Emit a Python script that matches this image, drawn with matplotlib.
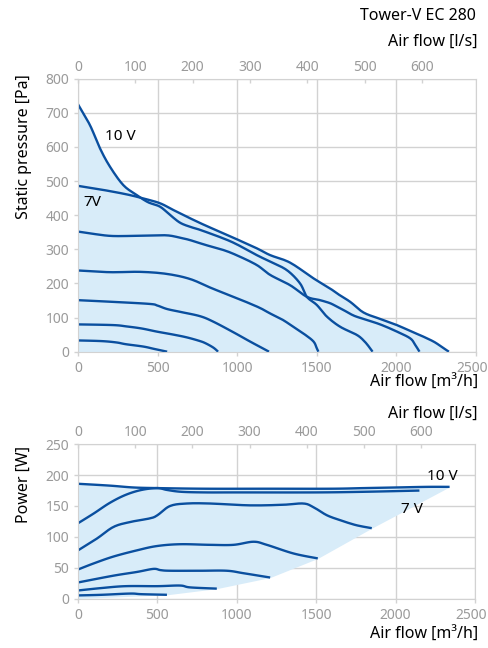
import numpy as np
import matplotlib.pyplot as plt
import matplotlib.transforms as mtransforms

plt.rcParams['font.family'] = ['Noto Sans', 'DejaVu Sans']

BLUE = '#0a4f9f'
FILL = '#d8ecf9'
GRID = '#d2d2d2'
TICK = '#9a9a9a'

# static pressure curves: air flow [m3/h], pressure [Pa]
p1_x = [0, 150, 243, 300, 411, 480, 560]
p1_y = [33, 31, 27, 22, 15, 8, 0]
p2_x = [0, 220, 306, 400, 494, 600, 683, 760, 800, 850, 880]
p2_y = [80, 78, 74, 68, 59, 50, 42, 32, 25, 12, 0]
p3_x = [0, 220, 450, 500, 560, 650, 767, 850, 976, 1080, 1160, 1200]
p3_y = [151, 146, 140, 135, 125, 116, 104, 88, 57, 30, 10, 0]
p4_x = [0, 200, 390, 557, 704, 840, 976, 1060, 1144, 1207, 1280, 1340, 1420, 1479, 1500, 1510]
p4_y = [238, 233, 234, 228, 213, 186, 161, 145, 128, 112, 95, 77, 52, 30, 10, 0]
p5_x = [0, 100, 220, 400, 557, 650, 704, 800, 913, 1000, 1123, 1207, 1332, 1437, 1521,
        1584, 1626, 1668, 1731, 1800, 1898, 2003, 2087, 2118, 2145]
p5_y = [352, 345, 339, 340, 341, 333, 327, 313, 298, 282, 254, 225, 195, 161, 151,
        142, 132, 122, 106, 95, 80, 59, 39, 20, 0]
p7v_x = [0, 159, 306, 411, 515, 600, 704, 800, 913, 1000, 1123, 1207, 1332, 1479, 1584,
         1626, 1710, 1793, 1898, 2003, 2100, 2170, 2240, 2290, 2330]
p7v_y = [486, 474, 461, 449, 435, 415, 391, 370, 347, 329, 303, 283, 261, 215, 185,
         171, 146, 115, 96, 78, 58, 44, 28, 12, 0]
p10v_x = [0, 75, 138, 201, 285, 369, 440, 515, 580, 641, 704, 767, 913, 1000, 1123, 1207,
          1312, 1395, 1437, 1500, 1563, 1647, 1752, 1800, 1835, 1850]
p10v_y = [725, 664, 596, 542, 488, 459, 438, 425, 400, 378, 366, 357, 332, 314, 283, 264,
          239, 200, 161, 137, 103, 73, 49, 30, 10, 0]

# power curves: air flow [m3/h], power [W]
w1_x = [0, 150, 328, 400, 560]
w1_y = [5, 6, 8, 7, 6]
w2_x = [0, 150, 300, 500, 643, 706, 874]
w2_y = [13, 17, 20, 20, 21, 18, 16]
w3_x = [0, 223, 370, 475, 520, 580, 769, 937, 1042, 1210]
w3_y = [26, 37, 43, 48, 46, 45, 45, 45, 41, 34]
w4_x = [0, 100, 223, 370, 496, 643, 832, 979, 1105, 1189, 1357, 1510]
w4_y = [47, 57, 68, 78, 85, 88, 87, 87, 92, 87, 73, 65]
w5_x = [0, 118, 223, 328, 454, 500, 580, 685, 832, 1084, 1294, 1420, 1483, 1567, 1651, 1750, 1850]
w5_y = [78, 97, 116, 124, 130, 135, 150, 154, 154, 151, 152, 154, 148, 135, 127, 119, 114]
w7v_x = [0, 100, 200, 300, 400, 500, 560, 650, 800, 1000, 1500, 1800, 2150]
w7v_y = [122, 138, 155, 168, 176, 179, 176, 173, 172, 172, 172, 173, 175]
w10v_x = [0, 200, 350, 500, 800, 1200, 1600, 1800, 2000, 2200, 2340]
w10v_y = [186, 183, 180, 179, 178, 178, 178, 179, 180, 181, 181]

pressure = [(p1_x, p1_y), (p2_x, p2_y), (p3_x, p3_y), (p4_x, p4_y),
            (p5_x, p5_y), (p7v_x, p7v_y), (p10v_x, p10v_y)]
power = [(w1_x, w1_y), (w2_x, w2_y), (w3_x, w3_y), (w4_x, w4_y),
         (w5_x, w5_y), (w7v_x, w7v_y), (w10v_x, w10v_y)]


def smooth(x, y, n=10):
    # catmull-rom through the read points
    pts = np.column_stack([x, y]).astype(float)
    p = np.vstack([pts[0], pts, pts[-1]])
    t = np.linspace(0, 1, n, endpoint=False)[:, None]
    out = []
    for i in range(1, len(p) - 2):
        p0, p1, p2, p3 = p[i - 1], p[i], p[i + 1], p[i + 2]
        out.append(0.5 * (2 * p1 + (-p0 + p2) * t + (2 * p0 - 5 * p1 + 4 * p2 - p3) * t ** 2
                          + (-p0 + 3 * p1 - 3 * p2 + p3) * t ** 3))
    out.append(pts[-1:])
    s = np.vstack(out)
    return s[:, 0], s[:, 1]


W, H = 488, 648
fig = plt.figure(figsize=(W / 100, H / 100), dpi=100)
FS_TICK = 10
FS_LAB = 11.5


def style(ax, ymax, ystep):
    ax.set_xlim(0, 2500)
    ax.set_ylim(0, ymax)
    ax.set_xticks(range(0, 2501, 500))
    ax.set_yticks(range(0, ymax + 1, ystep))
    ax.grid(True, color=GRID, lw=1)
    ax.set_axisbelow(True)
    for s in ax.spines.values():
        s.set_color(GRID)
    ax.tick_params(colors=GRID, labelcolor=TICK, labelsize=FS_TICK, length=3, width=1)
    last = ax.get_xticklabels()[-1]
    last.set_transform(last.get_transform() + mtransforms.ScaledTranslation(-4 / 100, 0, fig.dpi_scale_trans))
    top = ax.twiny()
    top.set_xlim(0, 2500 / 3.6)
    top.set_xticks(range(0, 601, 100))
    top.tick_params(colors=GRID, labelcolor=TICK, labelsize=FS_TICK, length=3, width=1,
                    direction='in', pad=3)
    for s in top.spines.values():
        s.set_visible(False)
    return top


# pressure chart
ax1 = fig.add_axes([78 / W, 1 - 351.7 / H, 398 / W, 273 / H])
style(ax1, 800, 100)
grid = np.linspace(0, 2500, 2500)
env = np.max([np.interp(grid, *smooth(x, y), right=0) for x, y in pressure], axis=0)
ax1.fill_between(grid, 0, env, color=FILL, lw=0)
for x, y in pressure:
    ax1.plot(*smooth(x, y), color=BLUE, lw=1.7, solid_capstyle='butt')
ax1.text(170, 632, '10 V', fontsize=11, va='center')
ax1.text(36, 438, '7V', fontsize=11, va='center')

# power chart
ax2 = fig.add_axes([78 / W, 1 - 598.5 / H, 397 / W, 154.2 / H])
style(ax2, 250, 50)
bx = [0, w1_x[-1], w2_x[-1], w3_x[-1], w4_x[-1], w5_x[-1], w10v_x[-1]]
by = [0, w1_y[-1], w2_y[-1], w3_y[-1], w4_y[-1], w5_y[-1], w10v_y[-1]]
g2 = np.linspace(0, w10v_x[-1], 1000)
ax2.fill_between(g2, np.interp(g2, bx, by), np.interp(g2, *smooth(w10v_x, w10v_y)),
                 color=FILL, lw=0)
for x, y in power:
    ax2.plot(*smooth(x, y), color=BLUE, lw=1.7, solid_capstyle='butt')
ax2.text(2200, 198, '10 V', fontsize=11, va='center')
ax2.text(2035, 145, '7 V', fontsize=11, va='center')

# texts
fig.text(476 / W, 1 - 16 / H, 'Tower-V EC 280', ha='right', va='center', fontsize=FS_LAB)
fig.text(478 / W, 1 - 42 / H, 'Air flow [l/s]', ha='right', va='center', fontsize=FS_LAB)
fig.text(478 / W, 1 - 383 / H, 'Air flow [m³/h]', ha='right', va='center', fontsize=FS_LAB)
fig.text(478 / W, 1 - 414 / H, 'Air flow [l/s]', ha='right', va='center', fontsize=FS_LAB)
fig.text(478 / W, 1 - 635 / H, 'Air flow [m³/h]', ha='right', va='center', fontsize=FS_LAB)
fig.text(24 / W, 1 - 74 / H, 'Static pressure [Pa]', rotation=90, ha='center', va='top', fontsize=FS_LAB)
fig.text(24 / W, 1 - 446 / H, 'Power [W]', rotation=90, ha='center', va='top', fontsize=FS_LAB)

fig.savefig('out.png', dpi=100)
